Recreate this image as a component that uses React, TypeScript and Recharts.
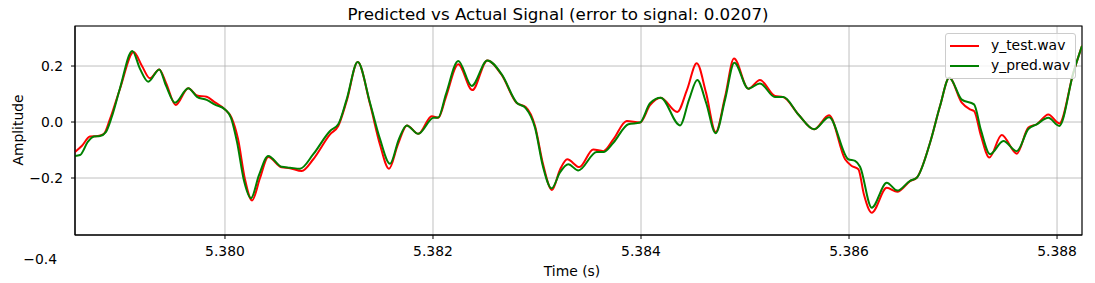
import { CartesianGrid, Legend, Line, LineChart, ReferenceArea, XAxis, YAxis } from 'recharts'

// [time (s), amplitude]
const yTest: [number, number][] = [
  [5.378558, -0.107], [5.378625, -0.085], [5.378702, -0.052], [5.378779, -0.05], [5.378837, -0.042],
  [5.378894, 0.01], [5.37899, 0.118], [5.379122, 0.25], [5.379202, 0.2], [5.379279, 0.156],
  [5.379368, 0.188], [5.379433, 0.14], [5.379526, 0.061], [5.379647, 0.121], [5.379731, 0.095],
  [5.379824, 0.09], [5.379904, 0.07], [5.38, 0.045], [5.380064, 0.015], [5.380125, -0.06],
  [5.380192, -0.204], [5.38026, -0.28], [5.380337, -0.2], [5.380416, -0.125], [5.380545, -0.162],
  [5.380625, -0.165], [5.380738, -0.175], [5.380849, -0.133], [5.38101, -0.044], [5.381089, -0.014],
  [5.38117, 0.075], [5.381276, 0.214], [5.381394, 0.065], [5.38149, -0.08], [5.381577, -0.167],
  [5.381663, -0.08], [5.38175, -0.012], [5.381859, -0.042], [5.381988, 0.021], [5.382051, 0.015],
  [5.382125, 0.09], [5.382243, 0.206], [5.382378, 0.114], [5.382522, 0.22], [5.382661, 0.168],
  [5.382805, 0.068], [5.382891, 0.054], [5.382981, -0.014], [5.383058, -0.15], [5.383144, -0.243],
  [5.383221, -0.17], [5.383291, -0.133], [5.383407, -0.161], [5.383541, -0.098], [5.383638, -0.104],
  [5.383734, -0.062], [5.383863, 0.004], [5.38399, -0.002], [5.384087, 0.06], [5.384189, 0.087],
  [5.384349, 0.036], [5.384442, 0.115], [5.384536, 0.21], [5.384625, 0.105], [5.384718, -0.036],
  [5.384808, 0.09], [5.384894, 0.227], [5.385032, 0.119], [5.385144, 0.15], [5.385288, 0.093],
  [5.385368, 0.089], [5.385513, 0.027], [5.385663, -0.026], [5.385808, 0.024], [5.385962, -0.133],
  [5.386026, -0.157], [5.38609, -0.169], [5.386144, -0.26], [5.386218, -0.324], [5.386363, -0.235],
  [5.386464, -0.249], [5.386587, -0.211], [5.386651, -0.199], [5.386779, -0.074], [5.386875, 0.057],
  [5.386964, 0.158], [5.387084, 0.069], [5.387163, 0.045], [5.387202, 0.039], [5.387269, -0.05],
  [5.387349, -0.127], [5.387468, -0.046], [5.387613, -0.113], [5.387724, -0.02], [5.387805, -0.008],
  [5.387916, 0.027], [5.388022, -0.005], [5.388157, 0.176], [5.38824, 0.272],
]

const yPred: [number, number][] = [
  [5.378558, -0.121], [5.378606, -0.118], [5.378683, -0.07], [5.37874, -0.052], [5.378798, -0.05],
  [5.378856, -0.035], [5.378913, 0.02], [5.37899, 0.12], [5.379109, 0.254], [5.379183, 0.19],
  [5.379262, 0.144], [5.379368, 0.188], [5.379433, 0.13], [5.379519, 0.069], [5.379647, 0.121],
  [5.379731, 0.09], [5.379824, 0.079], [5.379904, 0.062], [5.38, 0.045], [5.380058, 0.015],
  [5.380115, -0.07], [5.380183, -0.21], [5.38025, -0.272], [5.380327, -0.19], [5.380416, -0.121],
  [5.380545, -0.16], [5.380625, -0.163], [5.380721, -0.167], [5.380849, -0.115], [5.38101, -0.032],
  [5.381089, -0.008], [5.38117, 0.081], [5.381276, 0.214], [5.381394, 0.069], [5.38149, -0.06],
  [5.381587, -0.149], [5.381673, -0.06], [5.381747, -0.012], [5.381859, -0.042], [5.382003, 0.015],
  [5.382051, 0.016], [5.382125, 0.1], [5.382243, 0.218], [5.382372, 0.129], [5.382522, 0.22],
  [5.382661, 0.17], [5.382805, 0.069], [5.382891, 0.05], [5.382981, -0.02], [5.383058, -0.16],
  [5.383141, -0.237], [5.383221, -0.18], [5.383301, -0.151], [5.383397, -0.173], [5.383574, -0.107],
  [5.383638, -0.107], [5.383734, -0.074], [5.383878, -0.008], [5.38399, -0.002], [5.384087, 0.067],
  [5.384189, 0.087], [5.384375, -0.012], [5.384462, 0.08], [5.384541, 0.15], [5.384625, 0.07],
  [5.384718, -0.04], [5.384808, 0.08], [5.384897, 0.212], [5.385032, 0.119], [5.385144, 0.138],
  [5.385288, 0.089], [5.385368, 0.089], [5.385513, 0.027], [5.385663, -0.026], [5.385808, 0.017],
  [5.385993, -0.133], [5.386058, -0.139], [5.386106, -0.16], [5.386218, -0.306], [5.386363, -0.217],
  [5.386464, -0.245], [5.386587, -0.21], [5.386651, -0.199], [5.386779, -0.074], [5.386875, 0.057],
  [5.386964, 0.158], [5.387084, 0.08], [5.387202, 0.063], [5.387269, -0.03], [5.387356, -0.115],
  [5.387484, -0.068], [5.387613, -0.104], [5.387724, -0.025], [5.387805, -0.008], [5.387916, 0.015],
  [5.388022, -0.014], [5.388157, 0.176], [5.38824, 0.272],
]

const xTicks = [5.38, 5.382, 5.384, 5.386, 5.388]
const yTicks = [-0.2, 0, 0.2]
const xDomain: [number, number] = [5.378558, 5.38824]
const yDomain: [number, number] = [-0.4036, 0.343]

const series = [
  { name: 'y_test.wav', color: '#ff0000', points: yTest },
  { name: 'y_pred.wav', color: '#008000', points: yPred },
]

const font = 'DejaVu Sans, sans-serif'

const fmtY = (v: number) => (v < 0 ? '\u2212' : '') + Math.abs(v).toFixed(1)

function LegendBox() {
  return (
    <div
      style={{
        position: 'relative',
        width: 131,
        height: 46,
        boxSizing: 'border-box',
        border: '1px solid #cccccc',
        borderRadius: 3,
        background: 'rgba(255,255,255,0.8)',
        fontFamily: font,
        fontSize: 13.9,
        color: '#000',
      }}
    >
      {series.map((s, i) => (
        <div key={s.name} style={{ position: 'absolute', left: 4, top: 3 + i * 20, height: 17, display: 'flex', alignItems: 'center' }}>
          <span style={{ display: 'inline-block', width: 29, height: 2, background: s.color }} />
          <span style={{ marginLeft: 12, lineHeight: '17px' }}>{s.name}</span>
        </div>
      ))}
    </div>
  )
}

export default function App() {
  return (
    <div style={{ position: 'absolute', left: 0, top: 0, width: 1095, height: 283, background: '#fff', fontFamily: font }}>
      <LineChart width={1095} height={283} margin={{ top: 26, right: 13, bottom: 18, left: 0 }}>
        <CartesianGrid stroke='#b0b0b0' strokeWidth={0.8} />
        <XAxis
          type='number'
          dataKey='t'
          domain={xDomain}
          ticks={xTicks}
          allowDataOverflow
          tickFormatter={(v: number) => v.toFixed(3)}
          height={30}
          tickSize={4}
          tickMargin={7}
          stroke='#000'
          tick={{ fill: '#000', fontSize: 13.9, fontFamily: font }}
        />
        <YAxis
          type='number'
          domain={yDomain}
          ticks={yTicks}
          allowDataOverflow
          tickFormatter={fmtY}
          width={75}
          tickSize={4}
          tickMargin={8}
          stroke='#000'
          tick={{ fill: '#000', fontSize: 13.9, fontFamily: font }}
        />
        <ReferenceArea x1={xDomain[0]} x2={xDomain[1]} y1={yDomain[0]} y2={yDomain[1]} fill='none' stroke='#000' strokeWidth={1.1} fillOpacity={0} />
        {series.map((s) => (
          <Line
            key={s.name}
            name={s.name}
            data={s.points.map(([t, v]) => ({ t, v }))}
            dataKey='v'
            type='monotone'
            stroke={s.color}
            strokeWidth={2}
            dot={false}
            activeDot={false}
            isAnimationActive={false}
          />
        ))}
        <Legend
          layout='horizontal'
          verticalAlign='middle'
          align='center'
          content={() => <LegendBox />}
          wrapperStyle={{ left: 945, top: 33, width: 131, height: 46 }}
        />
      </LineChart>
      <div style={{ position: 'absolute', left: 558, top: 14, transform: 'translate(-50%, -50%)', fontSize: 16.7, whiteSpace: 'nowrap' }}>
        Predicted vs Actual Signal (error to signal: 0.0207)
      </div>
      <div style={{ position: 'absolute', left: 572, top: 271, transform: 'translate(-50%, -50%)', fontSize: 13.9, whiteSpace: 'nowrap' }}>
        Time (s)
      </div>
      <div style={{ position: 'absolute', left: 18, top: 130, transform: 'translate(-50%, -50%) rotate(-90deg)', fontSize: 13.9, whiteSpace: 'nowrap' }}>
        Amplitude
      </div>
      <div style={{ position: 'absolute', right: 1095 - 57, top: 259, transform: 'translateY(-50%)', fontSize: 13.9, whiteSpace: 'nowrap' }}>
        {'\u2212'}0.4
      </div>
    </div>
  )
}
